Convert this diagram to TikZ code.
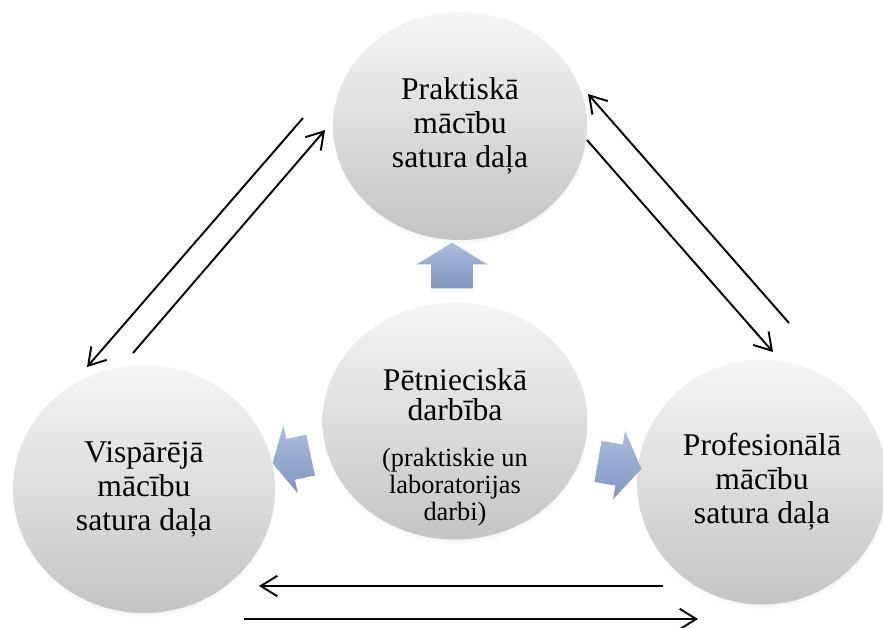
\documentclass[tikz,border=0pt]{standalone}
\usepackage{fontspec}
\setmainfont{Liberation Serif}
\usepackage{tikz}
\usetikzlibrary{shapes.geometric, shapes.arrows, arrows.meta, shadows}
\definecolor{disctop}{HTML}{F5F5F5}
\definecolor{discbot}{HTML}{C4C4C4}
\definecolor{blocktop}{HTML}{ABBFE1}
\definecolor{blockbot}{HTML}{8094BF}
\tikzset{
  disc/.style={ellipse, top color=disctop, bottom color=discbot, align=center, font=\fontsize{18}{19.3}\selectfont, inner sep=0pt, circular drop shadow={shadow xshift=0pt, shadow yshift=-2pt, shadow scale=1.01, opacity=.3}},
  ttl/.style={align=center, font=\fontsize{18}{17}\selectfont, inner sep=0pt},
  subttl/.style={align=center, font=\fontsize{15}{15.2}\selectfont, inner sep=0pt},
  block/.style={single arrow, top color=blocktop, bottom color=blockbot, inner xsep=0pt, inner ysep=0.41cm, single arrow head extend=0.28cm},
  flow/.style={-{Straight Barb[length=3.3mm, width=4.1mm]}, line width=1.1pt, black},
}
\begin{document}
\begin{tikzpicture}[x=0.02cm, y=-0.02cm]
\useasboundingbox (0,0) rectangle (883,627);
% the four discs
\node[disc, minimum width=5.08cm, minimum height=4.56cm] (prakt) at (460,126) {Praktiskā\\mācību\\satura daļa};
\node[disc, minimum width=5.3cm, minimum height=4.74cm] (petn) at (455,421) {};
\node[disc, minimum width=5.24cm, minimum height=4.96cm] (visp) at (144,489) {Vispārējā\\mācību\\satura daļa};
\node[disc, minimum width=5.0cm, minimum height=4.9cm] (prof) at (762,482) {Profesionālā\\mācību\\satura daļa};
\node[ttl] (petntitle) at (455,395) {Pētnieciskā\\darbība};
\node[subttl] (petnsub) at (455,487) {(praktiskie un\\laboratorijas\\darbi)};
% block arrows out of the centre
\node[block, rotate=90, minimum height=0.92cm, single arrow tip angle=116] (upblk) at (452,272) {};
\node[block, rotate=192, minimum height=0.78cm, single arrow tip angle=124] (leftblk) at (297,458) {};
\node[block, rotate=-10, minimum height=0.88cm, single arrow tip angle=114] (rightblk) at (613,464) {};
% free ends of the thin arrows
\coordinate (vp1) at (303,118); \coordinate (vp2) at (87,367);
\coordinate (vp3) at (133,353); \coordinate (vp4) at (325,130);
\coordinate (pp1) at (789,323); \coordinate (pp2) at (588,94);
\coordinate (pp3) at (587,140); \coordinate (pp4) at (773,352);
\coordinate (vv1) at (663,586); \coordinate (vv2) at (259,586);
\coordinate (vv3) at (244,619); \coordinate (vv4) at (698,619);
\draw[flow] (vp1) -- (vp2);
\draw[flow] (vp3) -- (vp4);
\draw[flow] (pp1) -- (pp2);
\draw[flow] (pp3) -- (pp4);
\draw[flow] (vv1) -- (vv2);
\draw[flow] (vv3) -- (vv4);
\end{tikzpicture}
\end{document}
